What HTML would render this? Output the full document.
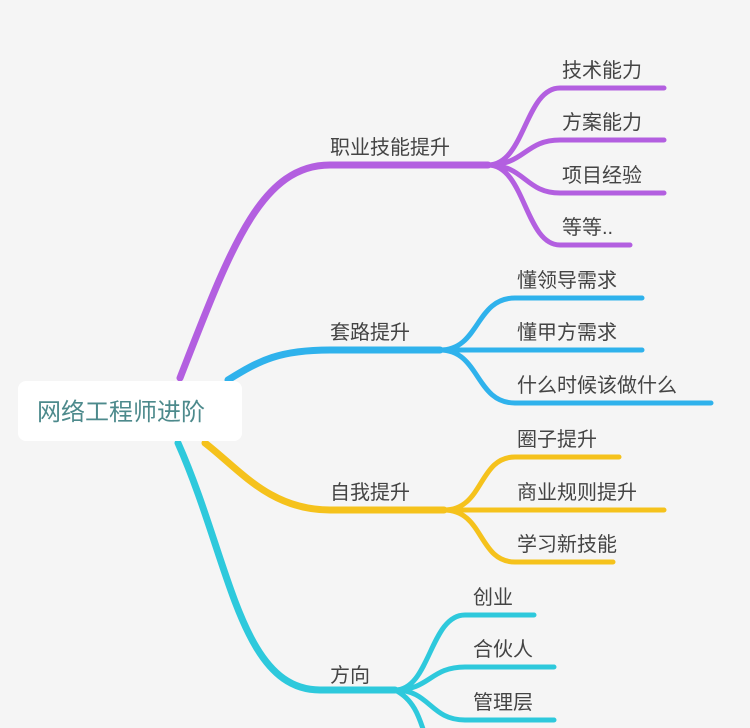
<!DOCTYPE html>
<html><head><meta charset="utf-8"><style>
html,body{margin:0;padding:0;background:#f5f5f5;}
svg{display:block}
text{font-family:"Liberation Sans","Noto Sans CJK SC",sans-serif;font-size:20px;fill:#444;}
</style></head><body>
<svg width="750" height="728" viewBox="0 0 750 728" xmlns="http://www.w3.org/2000/svg">
<rect width="750" height="728" fill="#f5f5f5"/>
<g fill="none" stroke-linecap="round">
<!-- purple -->
<g stroke="#b35fe0">
<path d="M180 378 C230 250 260 165 330 165 L488 165" stroke-width="7"/>
<path d="M488 165 C525 165 525 88 560 88 L664 88" stroke-width="5"/>
<path d="M488 165 C525 165 525 140 560 140 L664 140" stroke-width="5"/>
<path d="M488 165 C525 165 525 193 560 193 L664 193" stroke-width="5"/>
<path d="M488 165 C525 165 525 245 560 245 L630 245" stroke-width="5"/>
</g>
<!-- blue -->
<g stroke="#2fb2ec">
<path d="M228 380 C260 360 280 350 330 350 L440 350" stroke-width="7"/>
<path d="M440 350 C480 350 475 298 515 298 L642 298" stroke-width="5"/>
<path d="M440 350 L642 350" stroke-width="5"/>
<path d="M440 350 C480 350 475 403 515 403 L711 403" stroke-width="5"/>
</g>
<!-- yellow -->
<g stroke="#f5c21c">
<path d="M205 443 C240 470 270 510 330 510 L444 510" stroke-width="7"/>
<path d="M444 510 C484 510 478 457 515 457 L619 457" stroke-width="5"/>
<path d="M444 510 L664 510" stroke-width="5"/>
<path d="M444 510 C484 510 478 562 515 562 L613 562" stroke-width="5"/>
</g>
<!-- cyan -->
<g stroke="#2ec9dc">
<path d="M178 443 C230 560 240 690 320 690 L395 690" stroke-width="7"/>
<path d="M395 690 C430 690 430 615 465 615 L534 615" stroke-width="5"/>
<path d="M395 690 C430 690 430 667 465 667 L554 667" stroke-width="5"/>
<path d="M395 690 C430 690 430 720 465 720 L554 720" stroke-width="5"/>
<path d="M395 690 C415 700 420 720 425 735" stroke-width="5"/>
</g>
</g>
<rect x="18" y="381" width="224" height="60" rx="8" fill="#fff"/>
<text x="37" y="420" style="font-size:24px;fill:#4d8a8c">网络工程师进阶</text>
<text x="330" y="154">职业技能提升</text>
<text x="562" y="77">技术能力</text>
<text x="562" y="129">方案能力</text>
<text x="562" y="182">项目经验</text>
<text x="562" y="234">等等..</text>
<text x="330" y="339">套路提升</text>
<text x="517" y="287">懂领导需求</text>
<text x="517" y="339">懂甲方需求</text>
<text x="517" y="392">什么时候该做什么</text>
<text x="330" y="499">自我提升</text>
<text x="517" y="446">圈子提升</text>
<text x="517" y="499">商业规则提升</text>
<text x="517" y="551">学习新技能</text>
<text x="330" y="682">方向</text>
<text x="473" y="604">创业</text>
<text x="473" y="656">合伙人</text>
<text x="473" y="709">管理层</text>
</svg>
</body></html>
